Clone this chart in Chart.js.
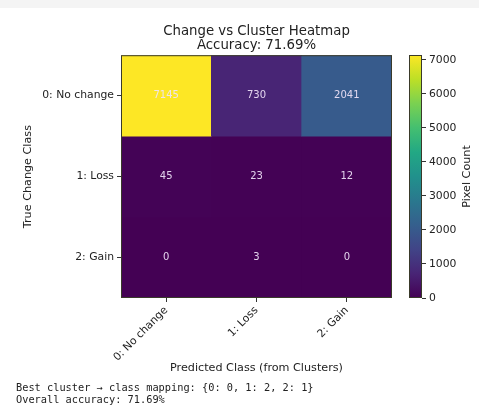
<!DOCTYPE html>
<html>
<head>
<meta charset="utf-8">
<script src="https://cdn.jsdelivr.net/npm/chart.js@4.4.1/dist/chart.umd.min.js"></script>
<style>
  html, body { margin: 0; padding: 0; background: #fff; }
  #wrap { position: relative; width: 479px; height: 406px; overflow: hidden; }
  #topband { position: absolute; left: 0; top: 0; width: 479px; height: 8px; background: #f4f4f4; }
  canvas { position: absolute; left: 0; top: 0; }
  #notes {
    position: absolute; left: 16px; top: 381px;
    font-family: "DejaVu Sans Mono", monospace; font-size: 10.3px; line-height: 12px;
    color: #222; white-space: pre;
  }
</style>
</head>
<body>
<div id="wrap">
  <div id="topband"></div>
  <canvas id="heatmap" width="479" height="406"></canvas>
  <canvas id="cbar" width="479" height="406"></canvas>
  <div id="notes">Best cluster → class mapping: {0: 0, 1: 2, 2: 1}
Overall accuracy: 71.69%</div>
</div>
<script>
// confusion matrix: rows = true class, columns = predicted class
const classLabels = ["0: No change", "1: Loss", "2: Gain"];
const rowNoChange = [7145, 730, 2041];
const rowLoss = [45, 23, 12];
const rowGain = [0, 3, 0];
const matrix = [rowNoChange, rowLoss, rowGain];
const titleLines = ["Change vs Cluster Heatmap", "Accuracy: 71.69%"];
const cbarTicks = [0, 1000, 2000, 3000, 4000, 5000, 6000, 7000];

const FONT = "'DejaVu Sans', sans-serif";
const vmax = Math.max(...matrix.flat());

// viridis stops
const viridis = ["#440154", "#482475", "#414487", "#355f8d", "#2a788e",
                 "#21918c", "#22a884", "#44bf70", "#7ad151", "#bddf26", "#fde725"];

function hexToRgb(h) {
  const n = parseInt(h.slice(1), 16);
  return [(n >> 16) & 255, (n >> 8) & 255, n & 255];
}

function viridisColor(t) {
  t = Math.min(1, Math.max(0, t));
  const pos = t * (viridis.length - 1);
  const i = Math.min(viridis.length - 2, Math.floor(pos));
  const f = pos - i;
  const a = hexToRgb(viridis[i]), b = hexToRgb(viridis[i + 1]);
  const c = a.map((v, k) => Math.round(v + (b[k] - v) * f));
  return `rgb(${c[0]},${c[1]},${c[2]})`;
}

// outline around the plot area
const frame = {
  id: "frame",
  afterDatasetsDraw(chart) {
    const { ctx, chartArea: a } = chart;
    ctx.save();
    ctx.strokeStyle = "#3a3a2a";
    ctx.lineWidth = 1;
    ctx.strokeRect(a.left + 0.5, a.top + 0.5, a.right - a.left - 1, a.bottom - a.top - 1);
    ctx.restore();
  }
};

// cell annotations
const cellText = {
  id: "cellText",
  afterDatasetsDraw(chart) {
    const ctx = chart.ctx;
    ctx.save();
    ctx.font = "10px " + FONT;
    ctx.fillStyle = "rgba(240,228,248,0.92)";
    ctx.textAlign = "center";
    ctx.textBaseline = "middle";
    chart.data.datasets.forEach((ds, r) => {
      chart.getDatasetMeta(r).data.forEach((bar, c) => {
        ctx.fillText(String(matrix[r][c]), bar.x, (bar.y + bar.base) / 2);
      });
    });
    ctx.restore();
  }
};

new Chart(document.getElementById("heatmap"), {
  type: "bar",
  data: {
    labels: classLabels,
    datasets: matrix.map((row, r) => ({
      label: classLabels[r],
      data: row.map(() => [r - 0.5, r + 0.5]),
      backgroundColor: row.map(v => viridisColor(v / vmax)),
      borderWidth: 0,
      grouped: false,
      barPercentage: 1,
      categoryPercentage: 1
    }))
  },
  options: {
    responsive: false,
    animation: false,
    layout: { padding: { left: 0, right: 87, top: 0, bottom: 31 } },
    plugins: {
      legend: { display: false },
      tooltip: { enabled: false },
      title: {
        display: true,
        fullSize: false,
        text: titleLines,
        color: "#222",
        font: { family: FONT, size: 13.3, weight: "normal", lineHeight: 1.06 },
        padding: { top: 24, bottom: 3 }
      }
    },
    scales: {
      x: {
        type: "category",
        ticks: { color: "#222", font: { family: FONT, size: 10.8 }, minRotation: 45, maxRotation: 45, padding: 2 },
        grid: { offset: false, drawOnChartArea: false, drawTicks: true, tickLength: 4, color: "#333" },
        border: { display: false },
        title: {
          display: true, text: "Predicted Class (from Clusters)", color: "#222",
          font: { family: FONT, size: 11.2 }, padding: { top: 4, bottom: 0 }
        },
        afterFit(s) { s.height = 77; }
      },
      y: {
        type: "linear",
        min: -0.5, max: 2.5,
        reverse: true,
        afterBuildTicks(s) { s.ticks = classLabels.map((_, i) => ({ value: i })); },
        ticks: {
          color: "#222", font: { family: FONT, size: 10.8 }, padding: 3,
          callback: v => classLabels[v]
        },
        grid: { drawOnChartArea: false, drawTicks: true, tickLength: 4, color: "#333" },
        border: { display: false },
        title: {
          display: true, text: "True Change Class", color: "#222",
          font: { family: FONT, size: 11.2 }, padding: { top: 21, bottom: 0 }
        },
        afterFit(s) { s.width = 121; }
      }
    }
  },
  plugins: [cellText, frame]
});

// colorbar label reads bottom-to-top
const cbarLabel = {
  id: "cbarLabel",
  afterDraw(chart) {
    const { ctx, chartArea: a } = chart;
    ctx.save();
    ctx.translate(467, (a.top + a.bottom) / 2);
    ctx.rotate(-Math.PI / 2);
    ctx.font = "11.2px " + FONT;
    ctx.fillStyle = "#222";
    ctx.textAlign = "center";
    ctx.textBaseline = "middle";
    ctx.fillText("Pixel Count", 0, 0);
    ctx.restore();
  }
};

new Chart(document.getElementById("cbar"), {
  type: "bar",
  data: {
    labels: [""],
    datasets: [{
      data: [vmax],
      borderWidth: 0,
      barPercentage: 1,
      categoryPercentage: 1,
      backgroundColor(context) {
        const chart = context.chart;
        const a = chart.chartArea;
        if (!a) return viridis[0];
        const y = chart.scales.y;
        const g = chart.ctx.createLinearGradient(0, y.getPixelForValue(0), 0, y.getPixelForValue(vmax));
        viridis.forEach((c, i) => g.addColorStop(i / (viridis.length - 1), c));
        return g;
      }
    }]
  },
  options: {
    responsive: false,
    animation: false,
    layout: { padding: { left: 409, right: 0, top: 55, bottom: 108 } },
    plugins: { legend: { display: false }, tooltip: { enabled: false } },
    scales: {
      x: { display: false },
      y: {
        position: "right",
        min: 0, max: vmax,
        afterBuildTicks(s) { s.ticks = cbarTicks.map(v => ({ value: v })); },
        ticks: { color: "#222", font: { family: FONT, size: 10.8 }, padding: 3, callback: v => String(v) },
        grid: { drawOnChartArea: false, drawTicks: true, tickLength: 4, color: "#333" },
        border: { display: false },
        afterFit(s) { s.width = 57; }
      }
    }
  },
  plugins: [frame, cbarLabel]
});
</script>
</body>
</html>
